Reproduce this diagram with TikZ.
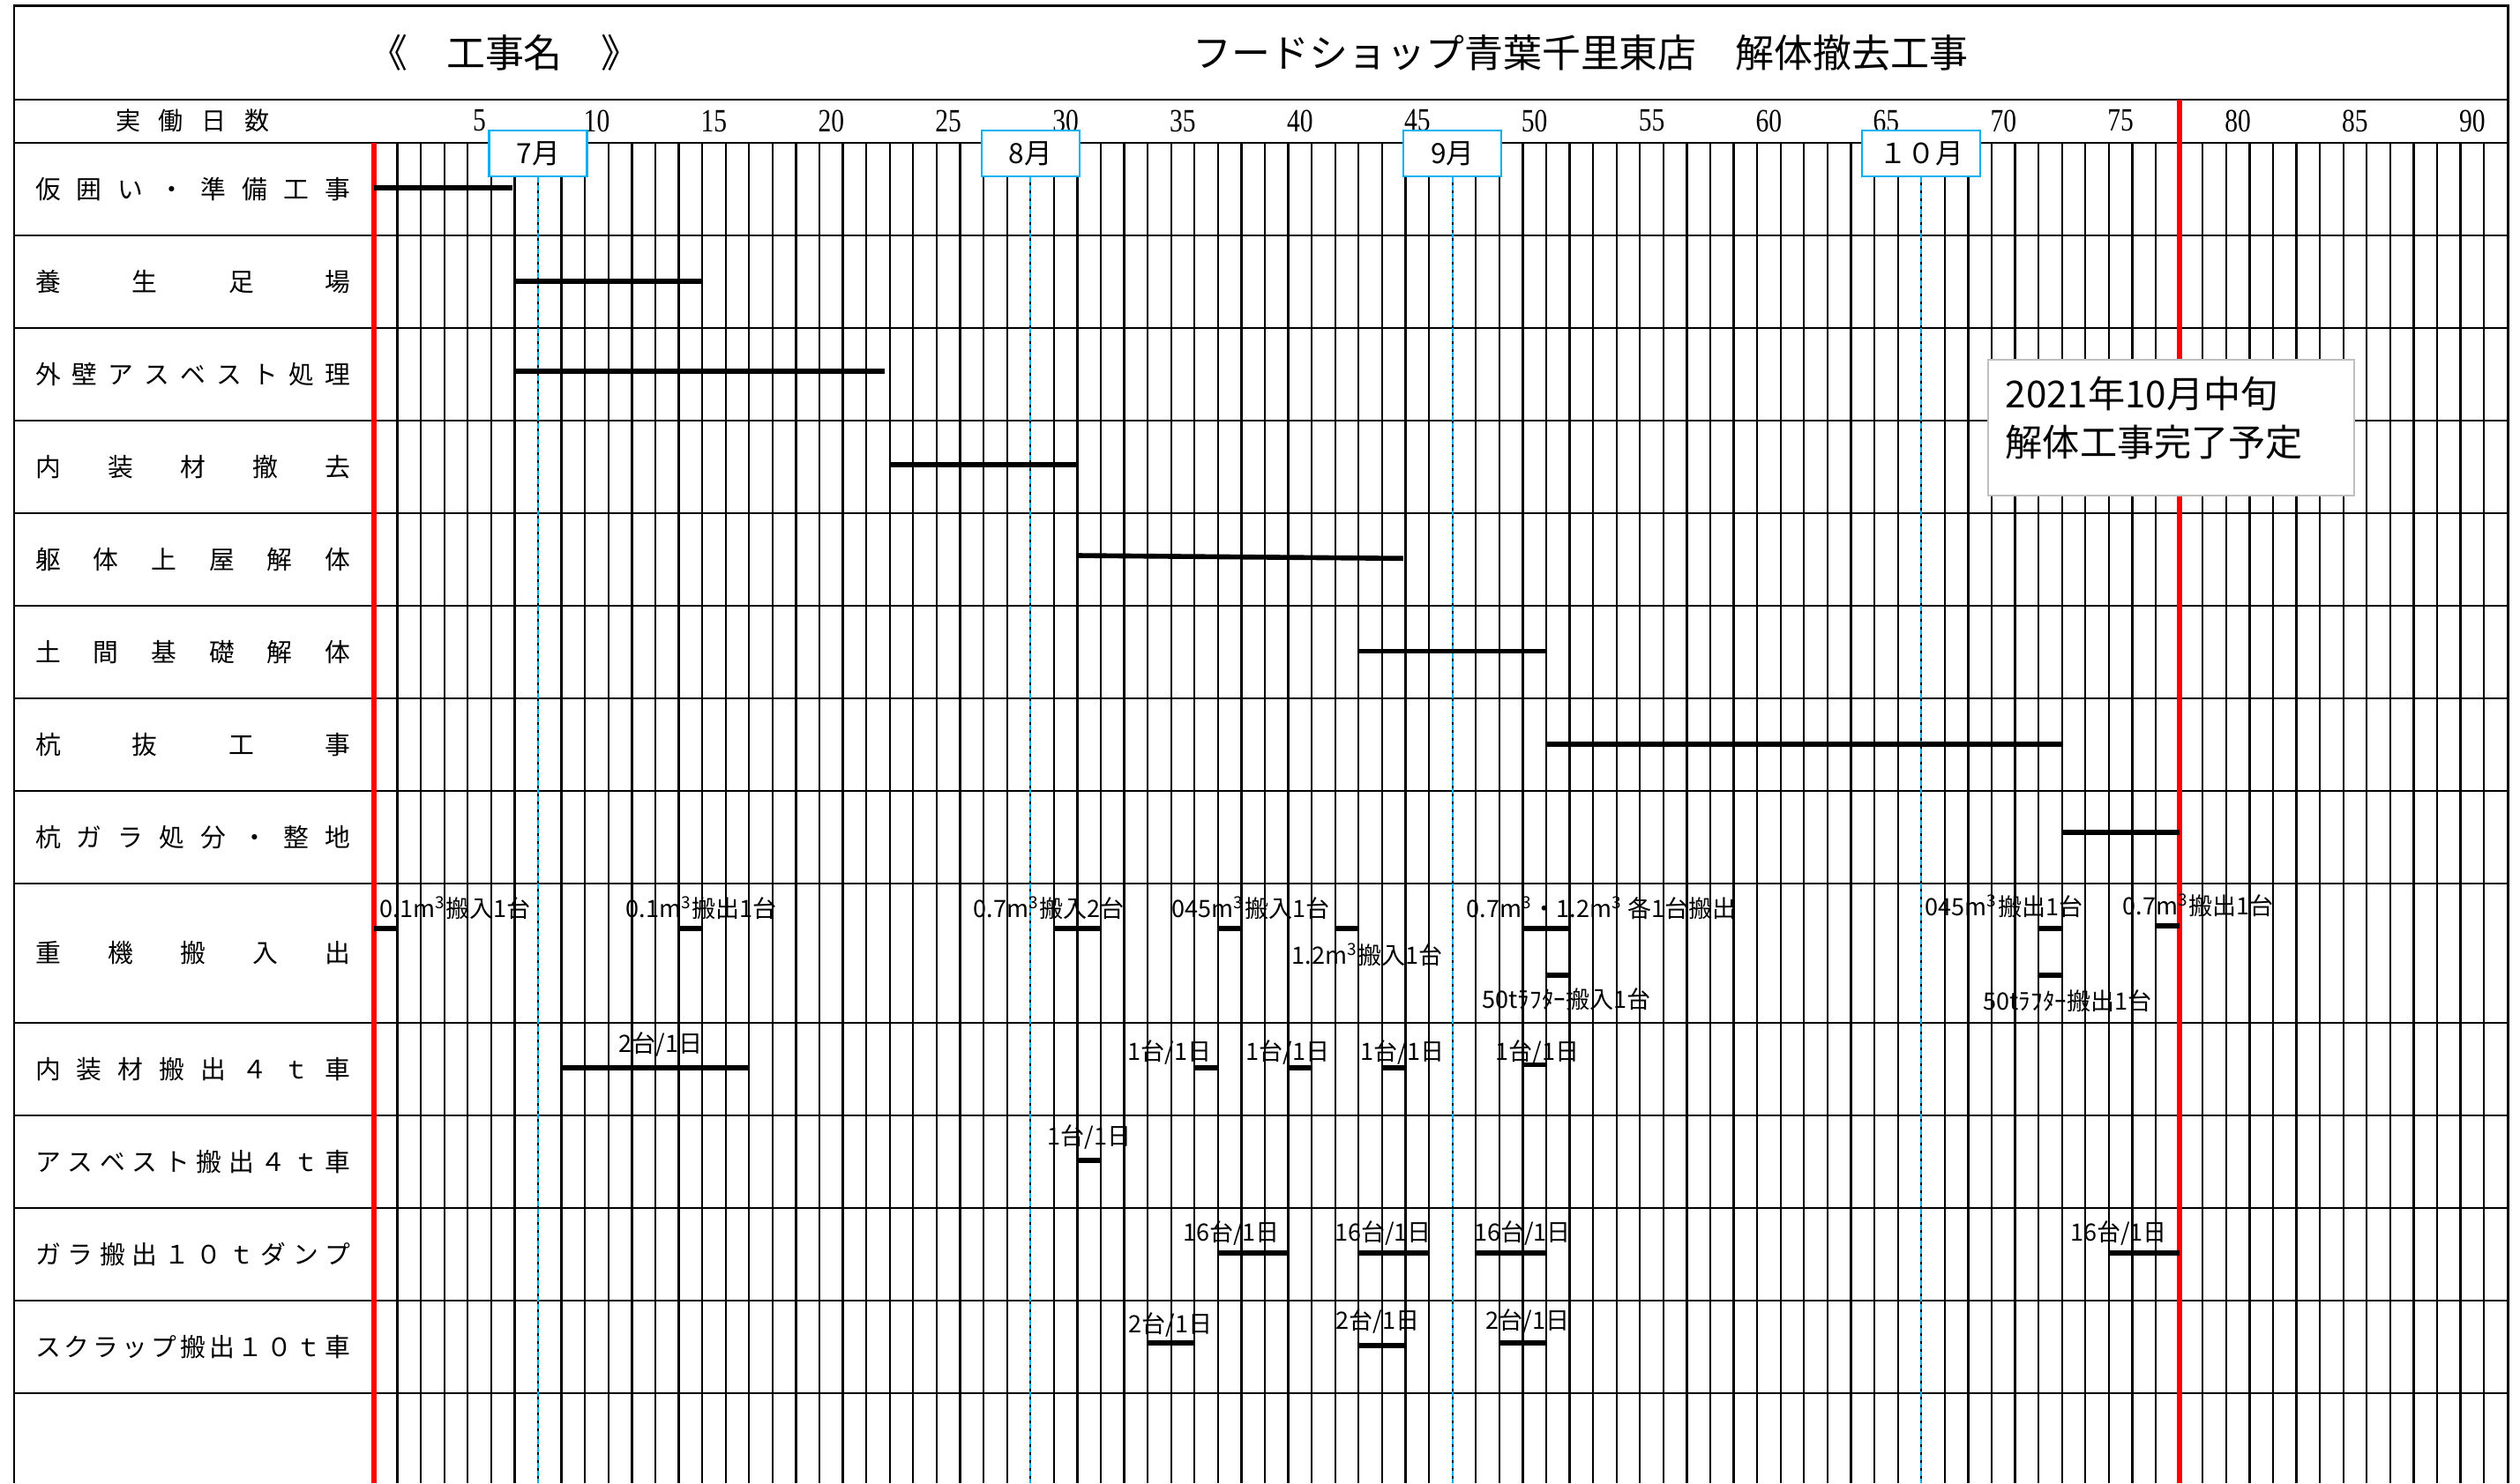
\documentclass[tikz,border=0pt]{standalone}
\usepackage{fontspec}
\setmainfont{Noto Sans CJK JP}
\newfontfamily\numfont[FakeStretch=0.8]{Liberation Serif}
\usetikzlibrary{positioning}

\definecolor{monthblue}{RGB}{0,176,240}
\definecolor{boxgray}{RGB}{191,191,191}

\makeatletter
\newcommand{\spread}[2]{\makebox[#1][s]{\def\spsep{}\@tfor\spch:=#2\do{\spsep\spch\def\spsep{\hfill}}}}
\makeatother
\newcommand{\mcube}{m\textsuperscript{3}}

\begin{document}
\begin{tikzpicture}
	[x=1cm,y=-1cm,every node/.style={inner sep=0pt},
	frame/.style={line width=0.85pt},
	rowline/.style={line width=0.8pt},
	dayline/.style={line width=0.65pt},
	redline/.style={red,line width=1.7pt},
	bar/.style={line width=1.6pt},
	monthbox/.style={draw=monthblue,line width=0.7pt,fill=white,minimum width=1.11cm,minimum height=0.52cm,font=\fontsize{9}{10}\selectfont},
	monthline/.style={monthblue,line width=0.6pt,dash pattern=on 0.06cm off 0.03cm},
	titlefont/.style={font=\fontsize{12.5}{14}\selectfont},
	headfont/.style={font=\fontsize{8}{9}\selectfont},
	rowlabel/.style={anchor=west,font=\fontsize{8.2}{9}\selectfont},
	daynum/.style={font=\numfont\fontsize{10.5}{11}\selectfont},
	tag/.style={font=\fontsize{7.7}{8}\selectfont},
	notetext/.style={align=left,font=\fontsize{12}{15.6}\selectfont}]

	\useasboundingbox (0,0) rectangle (28.57,16.82);
	\coordinate (bottom) at (0,16.82);

	% frame and rows
	\draw[frame] (0.16,16.82) -- (0.16,0.06) -- (28.43,0.06) -- (28.43,16.82);
	\foreach \y in {1.13,1.62,2.67,3.72,4.77,5.82,6.87,7.92,8.97,10.02,11.60,12.65,13.70,14.75,15.80}
		\draw[rowline] (0.16,\y) -- (28.43,\y);

	\node[titlefont] (title) at (5.72,0.60) {《　工事名　》};
	\node[titlefont] (project) at (17.92,0.60) {フードショップ青葉千里東店　解体撤去工事};
	\node[headfont] (days) at (2.185,1.37) {\spread{1.75cm}{実働日数}};

	\node[rowlabel] (r1) at (0.393,2.145) {\spread{3.574cm}{仮囲い・準備工事}};
	\node[rowlabel] (r2) at (0.393,3.195) {\spread{3.574cm}{養生足場}};
	\node[rowlabel] (r3) at (0.393,4.245) {\spread{3.574cm}{外壁アスベスト処理}};
	\node[rowlabel] (r4) at (0.393,5.295) {\spread{3.574cm}{内装材撤去}};
	\node[rowlabel] (r5) at (0.393,6.345) {\spread{3.574cm}{躯体上屋解体}};
	\node[rowlabel] (r6) at (0.393,7.395) {\spread{3.574cm}{土間基礎解体}};
	\node[rowlabel] (r7) at (0.393,8.445) {\spread{3.574cm}{杭抜工事}};
	\node[rowlabel] (r8) at (0.393,9.495) {\spread{3.574cm}{杭ガラ処分・整地}};
	\node[rowlabel] (r9) at (0.393,10.81) {\spread{3.574cm}{重機搬入出}};
	\node[rowlabel] (r10) at (0.393,12.125) {\spread{3.574cm}{内装材搬出４ｔ車}};
	\node[rowlabel] (r11) at (0.393,13.175) {\spread{3.574cm}{アスベスト搬出４ｔ車}};
	\node[rowlabel] (r12) at (0.393,14.225) {\spread{3.574cm}{ガラ搬出１０ｔダンプ}};
	\node[rowlabel] (r13) at (0.393,15.275) {\spread{3.574cm}{スクラップ搬出１０ｔ車}};

	% day grid
	\begin{scope}[xshift=4.24cm,x=0.2658cm]
		\foreach \d in {1,...,90}
			\draw[dayline] (\d,1.62) -- (\d,16.82);
		\foreach \n in {5,10,...,90}
			\node[daynum] (n\n) at (\n-0.5,1.37) {\n};

		\draw[redline] (0,1.62) -- (0,16.82);
		\draw[redline] (77,1.13) -- (77,16.82);

		\node[monthbox] (m7) at (7,1.74) {7月};
		\node[monthbox] (m8) at (28,1.74) {8月};
		\node[monthbox] (m9) at (46,1.74) {9月};
		\node[monthbox,minimum width=1.34cm] (m10) at (66,1.74) {１０月};
		\draw[monthline] (m7.south) -- (m7.south |- bottom);
		\draw[monthline] (m8.south) -- (m8.south |- bottom);
		\draw[monthline] (m9.south) -- (m9.south |- bottom);
		\draw[monthline] (m10.south) -- (m10.south |- bottom);

		% works
		\draw[bar] (0,2.13) -- (5.9,2.13);
		\draw[bar] (6,3.19) -- (14,3.19);
		\draw[bar] (6,4.21) -- (21.8,4.21);
		\draw[bar] (22,5.27) -- (30,5.27);
		\draw[bar] (30,6.30) -- (43.9,6.333);
		\draw[bar] (42,7.383) -- (50,7.383);
		\draw[bar] (50,8.44) -- (72,8.44);
		\draw[bar] (72,9.44) -- (77,9.44);

		% machines and trucks
		\foreach \a/\b in {0/1,13/14,29/31,36/37,41/42,49/51,71/72}
			\draw[bar] (\a,10.53) -- (\b,10.53);
		\draw[bar] (76,10.50) -- (77,10.50);
		\draw[bar] (50,11.057) -- (51,11.057);
		\draw[bar] (71,11.057) -- (72,11.057);
		\foreach \a/\b in {8/16,35/36,39/40,43/44}
			\draw[bar] (\a,12.107) -- (\b,12.107);
		\draw[bar] (49,12.073) -- (50,12.073);
		\draw[bar] (30,13.157) -- (31,13.157);
		\foreach \a/\b in {36/39,42/45,47/50,74/77}
			\draw[bar] (\a,14.207) -- (\b,14.207);
		\draw[bar] (33,15.227) -- (35,15.227);
		\draw[bar] (42,15.257) -- (44,15.257);
		\draw[bar] (48,15.227) -- (50,15.227);
	\end{scope}

	\node[tag,anchor=west] (t1) at (4.30,10.30) {0.1\mcube 搬入1台};
	\node[tag,anchor=west] (t2) at (7.09,10.30) {0.1\mcube 搬出1台};
	\node[tag,anchor=west] (t3) at (11.03,10.30) {0.7\mcube 搬入2台};
	\node[tag,anchor=west] (t4) at (13.28,10.30) {045\mcube 搬入1台};
	\node[tag,anchor=west] (t5) at (14.64,10.83) {1.2\mcube 搬入1台};
	\node[tag,anchor=west] (t6) at (16.62,10.30) {0.7\mcube・1.2\mcube\ 各1台搬出};
	\node[tag,anchor=west] (t7) at (16.80,11.33) {50tﾗﾌﾀｰ搬入1台};
	\node[tag,anchor=west] (t8) at (21.82,10.28) {045\mcube 搬出1台};
	\node[tag,anchor=west] (t9) at (24.06,10.27) {0.7\mcube 搬出1台};
	\node[tag,anchor=west] (t10) at (22.48,11.35) {50tﾗﾌﾀｰ搬出1台};

	\node[tag] (u1) at (7.49,11.84) {2台/1日};
	\node[tag] (u2) at (13.26,11.93) {1台/1日};
	\node[tag] (u3) at (14.60,11.93) {1台/1日};
	\node[tag] (u4) at (15.90,11.93) {1台/1日};
	\node[tag] (u5) at (17.43,11.93) {1台/1日};
	\node[tag] (a1) at (12.35,12.89) {1台/1日};
	\node[tag] (g1) at (13.96,13.98) {16台/1日};
	\node[tag] (g2) at (15.68,13.98) {16台/1日};
	\node[tag] (g3) at (17.26,13.98) {16台/1日};
	\node[tag] (g4) at (24.02,13.98) {16台/1日};
	\node[tag] (s1) at (13.27,15.02) {2台/1日};
	\node[tag] (s2) at (15.62,14.98) {2台/1日};
	\node[tag] (s3) at (17.32,14.98) {2台/1日};

	% completion note
	\node[draw=boxgray,line width=0.6pt,fill=white,minimum width=4.15cm,minimum height=1.54cm,anchor=north west] (done) at (22.53,4.07) {};
	\node[notetext,anchor=north west] (donetext) at ([xshift=0.2cm,yshift=-0.19cm]done.north west) {2021年10月中旬\\解体工事完了予定};

\end{tikzpicture}
\end{document}
